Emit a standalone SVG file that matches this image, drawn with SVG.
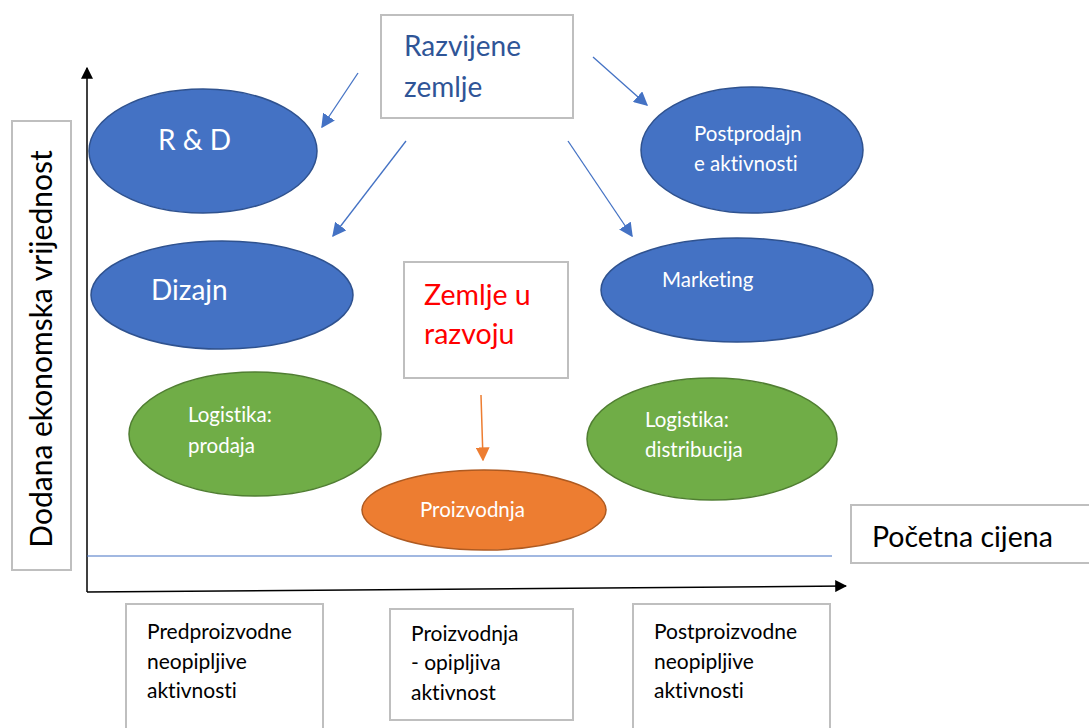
<svg xmlns="http://www.w3.org/2000/svg" width="1089" height="728" viewBox="0 0 1089 728">
<style>
.box{fill:#fff;stroke:#bfbfbf;stroke-width:2}
.blue{fill:#4472c4;stroke:#2f528f;stroke-width:1.5}
.green{fill:#70ad47;stroke:#507e32;stroke-width:1.5}
.orange{fill:#ed7d31;stroke:#ae5a21;stroke-width:1.5}
text{font-family:Lato,"Open Sans","Liberation Sans",sans-serif;font-variant-ligatures:none;font-feature-settings:"liga" 0}
.wl{fill:#fff;font-size:28px}
.ws{fill:#fff;font-size:20.5px}
.bk{fill:#000;font-size:21px}
.conn{stroke:#4472c4;stroke-width:1.3;fill:none}
</style>
<defs>
<marker id="ab2" viewBox="0 0 10 10" refX="9" refY="5" markerWidth="14" markerHeight="14" markerUnits="userSpaceOnUse" orient="auto">
<path d="M0,0 L10,5 L0,10 z" fill="#4472c4"/>
</marker>
<marker id="ao" viewBox="0 0 10 10" refX="9" refY="5" markerWidth="14" markerHeight="14" markerUnits="userSpaceOnUse" orient="auto">
<path d="M0,0 L10,5 L0,10 z" fill="#ed7d31"/>
</marker>
<marker id="ak" viewBox="0 0 10 10" refX="9" refY="5" markerWidth="12" markerHeight="12" markerUnits="userSpaceOnUse" orient="auto">
<path d="M0,0 L10,5 L0,10 z" fill="#000"/>
</marker>
</defs>
<rect width="1089" height="728" fill="#fff"/>

<g id="axes">
<line x1="87" y1="592" x2="87" y2="68" stroke="#000" stroke-width="1.5" marker-end="url(#ak)"/>
<line x1="87" y1="592" x2="846" y2="586" stroke="#000" stroke-width="1.5" marker-end="url(#ak)"/>
<line x1="87" y1="556" x2="832" y2="556" stroke="#4472c4" stroke-width="1.2"/>
</g>

<g id="connectors">
<line class="conn" x1="358" y1="73" x2="322" y2="127" marker-end="url(#ab2)"/>
<line class="conn" x1="593" y1="57" x2="647" y2="105" marker-end="url(#ab2)"/>
<line class="conn" x1="406" y1="141" x2="333" y2="236" marker-end="url(#ab2)"/>
<line class="conn" x1="568" y1="141" x2="632" y2="236" marker-end="url(#ab2)"/>
<line x1="481" y1="395" x2="483" y2="460" stroke="#ed7d31" stroke-width="1.5" marker-end="url(#ao)"/>
</g>

<g id="razvijene">
<rect class="box" x="381" y="15" width="192" height="103"/>
<text x="404" y="56" font-size="28" fill="#2f5597">Razvijene</text>
<text x="404" y="97" font-size="28" fill="#2f5597">zemlje</text>
</g>

<g id="rd">
<ellipse class="blue" cx="203" cy="151" rx="114" ry="62"/>
<text class="wl" x="158" y="150">R &amp; D</text>
</g>

<g id="postprodajne">
<ellipse class="blue" cx="752" cy="150" rx="111" ry="63"/>
<text class="ws" x="694" y="141">Postprodajn</text>
<text class="ws" x="694" y="171">e aktivnosti</text>
</g>

<g id="dizajn">
<ellipse class="blue" cx="222" cy="295" rx="131" ry="54"/>
<text class="wl" x="151" y="300">Dizajn</text>
</g>

<g id="marketing">
<ellipse class="blue" cx="737" cy="290" rx="136" ry="52"/>
<text class="ws" x="662" y="287" font-size="22">Marketing</text>
</g>

<g id="zemlje-u-razvoju">
<rect class="box" x="404" y="262" width="164" height="116"/>
<text x="424" y="305" font-size="28.5" fill="#ff0000">Zemlje u</text>
<text x="424" y="344" font-size="28.5" fill="#ff0000">razvoju</text>
</g>

<g id="logistika-prodaja">
<ellipse class="green" cx="255" cy="434" rx="126" ry="62"/>
<text class="ws" x="188" y="422">Logistika:</text>
<text class="ws" x="188" y="453">prodaja</text>
</g>

<g id="logistika-distribucija">
<ellipse class="green" cx="712" cy="439" rx="125" ry="61"/>
<text class="ws" x="645" y="427">Logistika:</text>
<text class="ws" x="645" y="457">distribucija</text>
</g>

<g id="proizvodnja">
<ellipse class="orange" cx="484" cy="510" rx="122" ry="40"/>
<text class="ws" x="420" y="517">Proizvodnja</text>
</g>

<g id="pocetna-cijena">
<rect class="box" x="851" y="505" width="245" height="58"/>
<text x="872" y="547" font-size="28.5" fill="#000">Početna cijena</text>
</g>

<g id="y-label">
<rect class="box" x="12" y="121" width="59" height="449"/>
<text x="0" y="0" font-size="30" fill="#000" text-anchor="middle" transform="translate(52,349) rotate(-90)">Dodana ekonomska vrijednost</text>
</g>

<g id="predproizvodne">
<rect class="box" x="126" y="604" width="197" height="130"/>
<text class="bk" x="147" y="639">Predproizvodne</text>
<text class="bk" x="147" y="669">neopipljive</text>
<text class="bk" x="147" y="698">aktivnosti</text>
</g>

<g id="proizvodnja-opipljiva">
<rect class="box" x="390" y="609" width="183" height="111"/>
<text class="bk" x="411" y="641">Proizvodnja</text>
<text class="bk" x="411" y="670">- opipljiva</text>
<text class="bk" x="411" y="700">aktivnost</text>
</g>

<g id="postproizvodne">
<rect class="box" x="633" y="604" width="197" height="130"/>
<text class="bk" x="654" y="639">Postproizvodne</text>
<text class="bk" x="654" y="669">neopipljive</text>
<text class="bk" x="654" y="698">aktivnosti</text>
</g>
</svg>
